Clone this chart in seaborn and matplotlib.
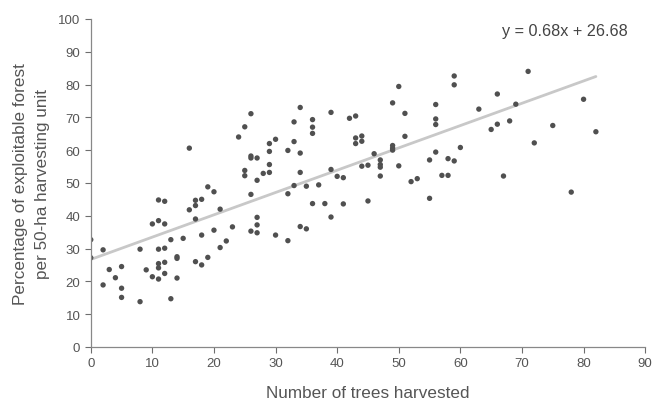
import numpy as np
import pandas as pd
import seaborn as sns
import matplotlib.pyplot as plt

# points
trees = [0, 0, 2, 2, 3, 4, 5, 5, 5, 8, 8, 9, 10, 10,
         11, 11, 11, 11, 11, 11, 12, 12, 12, 12, 12, 13, 13, 14, 14, 14,
         15, 16, 16, 17, 17, 17, 17, 18, 18, 18, 19, 19, 20, 20, 21, 21,
         22, 23, 24, 25, 25, 25, 26, 26, 26, 26, 26, 27, 27, 27, 27, 27,
         28, 29, 29, 29, 29, 30, 30, 32, 32, 32, 33, 33, 33, 34, 34, 34, 34,
         35, 35, 36, 36, 36, 36, 37, 38, 39, 39, 39, 40, 41, 41, 42,
         43, 43, 43, 44, 44, 44, 45, 45, 46, 47, 47, 47, 47,
         49, 49, 49, 49, 50, 50, 51, 51, 52, 53, 55, 55, 56, 56, 56, 56,
         57, 58, 58, 59, 59, 59, 60, 63, 65, 66, 66, 67, 68, 69, 71, 72,
         75, 78, 80, 82]
forest_pct = [32.7, 27.2, 29.6, 18.9, 23.6, 21.1, 24.5, 17.9, 15.1, 13.8, 29.8, 23.5, 37.5, 21.4,
              44.8, 38.5, 29.8, 25.4, 24.1, 20.7, 44.4, 37.5, 30.1, 25.8, 22.4, 32.7, 14.7, 27.0, 27.5, 21.0,
              33.1, 41.8, 60.6, 43.1, 44.7, 39.0, 26.0, 45.0, 34.1, 25.0, 48.8, 27.3, 47.3, 35.6, 42.0, 30.3,
              32.3, 36.6, 64.0, 67.1, 53.8, 52.2, 71.1, 58.2, 57.6, 46.5, 35.3, 57.6, 50.8, 39.5, 37.2, 34.8,
              52.9, 62.0, 59.6, 55.6, 53.2, 63.3, 34.1, 59.9, 46.7, 32.4, 68.6, 62.6, 49.2, 73.0, 59.1, 53.2, 36.7,
              49.0, 36.0, 69.3, 67.0, 65.1, 43.7, 49.4, 43.7, 71.5, 54.1, 39.6, 52.0, 51.6, 43.6, 69.7,
              70.4, 63.7, 62.0, 64.3, 62.7, 55.1, 55.4, 44.5, 58.9, 57.0, 55.6, 54.8, 52.1,
              74.4, 61.4, 60.6, 60.0, 79.4, 55.2, 71.2, 64.2, 50.4, 51.3, 57.0, 45.3, 73.9, 69.5, 67.8, 59.4,
              52.3, 52.3, 57.4, 82.6, 79.9, 56.7, 60.8, 72.5, 66.3, 77.1, 67.9, 52.1, 68.9, 74.0, 84.0, 62.2,
              67.5, 47.2, 75.5, 65.6]

# trend line as printed on the chart
slope = 0.68
intercept = 26.68
trend_x = [0, 82]

df = pd.DataFrame({"trees": trees, "forest": forest_pct})

sns.set_style("ticks")
plt.rcParams["font.family"] = ["Liberation Sans", "DejaVu Sans"]

grey = "#6e6e6e"
fig = plt.figure(figsize=(6.53, 4.06), dpi=100)
ax = fig.add_axes([0.139, 0.143, 0.849, 0.808])

tx = np.array(trend_x)
ax.plot(tx, slope * tx + intercept, color="#c8c8c8", lw=2, zorder=1)
sns.scatterplot(data=df, x="trees", y="forest", ax=ax, color="#505050",
                s=15, edgecolor="none", zorder=2)

ax.set_xlim(0, 90)
ax.set_ylim(0, 100)
ax.set_xticks(range(0, 91, 10))
ax.set_yticks(range(0, 101, 10))
ax.set_xlabel("Number of trees harvested", fontsize=12.3, color="#555555", labelpad=11)
ax.set_ylabel("Percentage of exploitable forest\nper 50-ha harvesting unit",
              fontsize=12.3, color="#555555", labelpad=6, linespacing=1.6)
ax.tick_params(colors=grey, labelcolor="#555555", labelsize=9.5, length=4, width=0.8)
for side in ["left", "bottom"]:
    ax.spines[side].set_color("#888888")
    ax.spines[side].set_linewidth(0.9)
sns.despine(ax=ax)

ax.text(66.8, 96.6, "y = 0.68x + 26.68", fontsize=11.7, color="#444444", va="center")

fig.savefig("out.png", dpi=100)
